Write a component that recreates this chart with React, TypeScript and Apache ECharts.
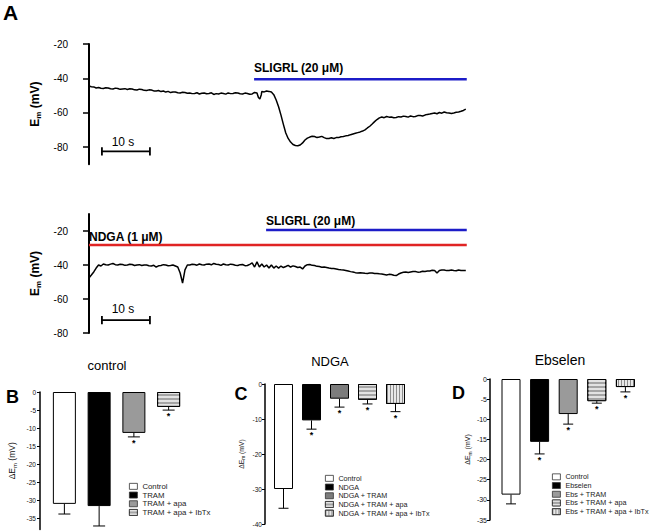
import React, { useEffect, useRef } from "react";
import * as echarts from "echarts";

const FONT = '"Liberation Sans", Arial, Helvetica, sans-serif';

// ---------- Panel A: membrane potential traces (time s, Em mV) ----------
const topTrace: number[][] = [
  [0,-44.5],[0.5,-44.9],[1,-45.0],[1.5,-45.6],[2,-45.3],[2.5,-45.8],[3,-45.9],[3.5,-45.5],[4,-45.6],[4.5,-46.1],
  [5,-46.2],[5.5,-45.7],[6,-45.9],[6.5,-46.4],[7,-46.2],[7.5,-46.0],[8,-46.5],[8.5,-46.1],[9,-46.2],[9.5,-46.7],
  [10,-46.8],[10.5,-46.3],[11,-46.5],[11.5,-47.0],[12,-47.1],[12.5,-46.7],[13,-46.8],[13.5,-47.3],[14,-47.4],[14.5,-47.1],
  [15,-47.7],[15.5,-47.4],[16,-48.0],[16.5,-47.6],[17,-48.3],[17.5,-47.9],[18,-48.0],[18.5,-48.4],[19,-48.5],[19.5,-48.1],
  [20,-48.3],[20.5,-48.7],[21,-48.5],[21.5,-48.9],[22,-48.8],[22.5,-48.4],[23,-49.1],[23.5,-48.7],[24,-48.5],[24.5,-49.0],
  [25,-48.8],[25.5,-48.4],[26,-49.4],[26.5,-48.9],[27,-49.1],[27.5,-48.6],[28,-48.8],[28.5,-49.2],[29,-48.5],[29.5,-48.9],
  [30,-48.8],[30.5,-48.4],[31,-48.5],[31.5,-49.0],[32,-49.1],[32.5,-48.6],[33,-48.8],[33.5,-49.3],[34,-49.1],[34.5,-48.2],
  [35,-48.5],[35.3,-51.2],[35.6,-52.0],[35.9,-49.5],[36,-47.7],[36.5,-47.9],[37,-47.4],[37.5,-47.6],[38,-48.0],[38.5,-49.5],
  [39,-52.6],[39.5,-56.5],[40,-61.4],[40.5,-66.8],[41,-71.8],[41.5,-75.0],[42,-77.1],[42.5,-78.5],[43,-79.1],[43.5,-79.3],
  [44,-78.8],[44.5,-77.6],[45,-75.9],[45.5,-74.8],[46,-74.2],[46.5,-73.7],[47,-73.9],[47.5,-74.5],[48,-74.2],[48.5,-73.8],
  [49,-74.5],[49.5,-75.1],[50,-75.0],[50.5,-74.6],[51,-75.0],[51.5,-74.5],[52,-74.5],[52.5,-74.0],[53,-73.9],[53.5,-73.5],
  [54,-73.3],[54.5,-72.8],[55,-72.4],[55.5,-72.0],[56,-71.6],[56.5,-71.2],[57,-70.7],[57.5,-70.0],[58,-68.9],[58.5,-67.9],
  [59,-66.6],[59.5,-65.2],[60,-64.0],[60.5,-63.0],[61,-62.5],[61.5,-62.9],[62,-62.2],[62.5,-62.6],[63,-62.5],[63.5,-62.9],
  [64,-62.8],[64.5,-62.3],[65,-62.5],[65.5,-62.0],[66,-62.2],[66.5,-62.6],[67,-61.9],[67.5,-62.3],[68,-62.2],[68.5,-61.7],
  [69,-61.6],[69.5,-61.9],[70,-61.4],[70.5,-61.0],[71,-60.8],[71.5,-60.5],[72,-60.2],[72.5,-60.6],[73,-59.9],[73.5,-60.3],
  [74,-59.6],[74.5,-60.0],[75,-60.2],[75.5,-60.5],[76,-60.2],[76.5,-59.8],[77,-59.6],[77.5,-59.2],[78,-58.7],[78.5,-57.9],
];

const bottomTrace: number[][] = [
  [0,-47.6],[0.5,-45.9],[1,-44.1],[1.5,-41.8],[2,-40.0],[2.5,-40.6],[3,-39.4],[3.5,-39.9],[4,-40.0],[4.5,-39.5],
  [5,-39.1],[5.5,-39.8],[6,-40.0],[6.5,-39.6],[7,-39.7],[7.5,-40.2],[8,-40.0],[8.5,-39.6],[9,-39.7],[9.5,-40.3],
  [10,-40.0],[10.5,-39.8],[11,-40.3],[11.5,-40.0],[12,-40.0],[12.5,-40.4],[13,-40.6],[13.5,-40.2],[14,-41.2],[14.5,-40.5],
  [15,-40.3],[15.5,-39.8],[16,-40.0],[16.5,-40.4],[17,-40.3],[17.5,-40.0],[18,-40.6],[18.5,-41.2],[19,-44.7],[19.5,-50.6],
  [20,-42.9],[20.5,-40.0],[21,-40.0],[21.5,-39.6],[22,-39.7],[22.5,-40.1],[23,-39.4],[23.5,-39.8],[24,-40.0],[24.5,-39.5],
  [25,-39.4],[25.5,-39.9],[26,-39.1],[26.5,-39.6],[27,-39.7],[27.5,-40.2],[28,-39.4],[28.5,-39.9],[29,-40.0],[29.5,-39.5],
  [30,-39.7],[30.5,-40.1],[31,-40.3],[31.5,-39.8],[32,-39.7],[32.5,-40.4],[33,-40.3],[33.5,-39.6],[34,-38.8],[34.5,-41.2],
  [35,-38.2],[35.5,-41.2],[36,-39.4],[36.5,-41.2],[37,-40.0],[37.5,-41.8],[38,-40.0],[38.5,-41.8],[39,-40.6],[39.5,-41.8],
  [40,-40.6],[40.5,-41.5],[41,-40.9],[41.5,-40.2],[42,-41.2],[42.5,-40.5],[43,-40.9],[43.5,-41.5],[44,-41.2],[44.5,-42.3],
  [45,-40.6],[45.5,-39.8],[46,-39.7],[46.5,-40.2],[47,-40.3],[47.5,-40.8],[48,-40.9],[48.5,-41.3],[49,-41.2],[49.5,-41.5],
  [50,-41.8],[50.5,-42.0],[51,-42.1],[51.5,-42.3],[52,-42.6],[52.5,-42.8],[53,-42.9],[53.5,-43.2],[54,-43.5],[54.5,-43.9],
  [55,-44.1],[55.5,-44.5],[56,-44.7],[56.5,-44.6],[57,-44.7],[57.5,-44.9],[58,-45.0],[58.5,-44.7],[59,-44.7],[59.5,-45.0],
  [60,-45.0],[60.5,-45.2],[61,-45.3],[61.5,-45.6],[62,-45.9],[62.5,-45.5],[63,-45.6],[63.5,-46.0],[64,-46.2],[64.5,-45.3],
  [65,-44.7],[65.5,-44.3],[66,-44.1],[66.5,-44.4],[67,-44.1],[67.5,-43.8],[68,-43.8],[68.5,-44.2],[69,-44.1],[69.5,-43.7],
  [70,-43.8],[70.5,-43.5],[71,-43.5],[71.5,-43.1],[72,-43.2],[72.5,-44.7],[73,-43.2],[73.5,-42.9],[74,-42.9],[74.5,-43.3],
  [75,-43.2],[75.5,-42.9],[76,-43.2],[76.5,-43.4],[77,-42.9],[77.5,-43.2],[78,-43.2],[78.5,-43.2],
];

// application bars: [start s, end s, level mV]
const sligrlTop = [34.4, 78.7, -40.5];
const sligrlBottom = [36.9, 78.7, -19.4];
const ndgaBottom = [0, 78.7, -28.2];
// scale bars: [start s, end s, level mV, half tick mV]
const scaleTop = [2.7, 12.7, -82.5, 2.4];
const scaleBottom = [2.7, 12.7, -72.4, 2.4];

const topTicks = [-20, -40, -60, -80];
const bottomTicks = [-20, -40, -60, -80];

// ---------- Panels B, C, D: ΔEm (mV) ----------
const bCategories = ["Control", "TRAM", "TRAM + apa", "TRAM + apa + IbTx"];
const bValues = [-30.9, -31.5, -11.3, -4.1];
const bErrors = [2.8, 5.5, 1.1, 0.9];
const bSig = [0, 0, 1, 1];
const bTicks = [0, -5, -10, -15, -20, -25, -30, -35];

const cCategories = ["Control", "NDGA", "NDGA + TRAM", "NDGA + TRAM + apa", "NDGA + TRAM + apa + IbTx"];
const cValues = [-30.0, -10.4, -4.2, -4.5, -5.7];
const cErrors = [5.5, 2.5, 2.4, 1.2, 2.2];
const cSig = [0, 1, 1, 1, 1];

const dCategories = ["Control", "Ebselen", "Ebs + TRAM", "Ebs + TRAM + apa", "Ebs + TRAM + apa + IbTx"];
const dValues = [-28.7, -15.6, -8.7, -5.5, -2.0];
const dErrors = [2.3, 3.0, 2.5, 0.5, 1.2];
const dSig = [0, 1, 1, 1, 1];

// fill styles
const WHITE = { color: "#ffffff" };
const BLACK = { color: "#000000" };
const GRAY = { color: "#9a9a9a" };
const DARKGRAY = { color: "#7c7c7c" };
const HSTRIPE = {
  color: "#a4a4a4",
  decal: { symbol: "rect", symbolSize: 1, color: "#e2e2e2", dashArrayX: [1, 0], dashArrayY: [1.5, 1.5], rotation: 0 },
};
const VSTRIPE = {
  color: "#e8e8e8",
  decal: { symbol: "rect", symbolSize: 1, color: "#8c8c8c", dashArrayX: [1, 1.6], dashArrayY: [1, 0], rotation: 0 },
};
const bFills = [WHITE, BLACK, GRAY, HSTRIPE];
const cFills = [WHITE, BLACK, DARKGRAY, HSTRIPE, VSTRIPE];
const dFills = [WHITE, BLACK, GRAY, HSTRIPE, VSTRIPE];

function barSeries(g: number, cats: string[], vals: number[], errs: number[], sig: number[], fills: any[], barWidth: number, cap: number, starSize: number) {
  const out: any[] = cats.map((name, i) => ({
    type: "bar",
    name,
    xAxisIndex: g,
    yAxisIndex: g,
    stack: "s" + g,
    barWidth,
    silent: true,
    data: cats.map((_, j) => (j === i ? vals[i] : "-")),
    itemStyle: { ...fills[i], borderColor: "#000", borderWidth: 1 },
  }));
  out.push({
    type: "custom",
    xAxisIndex: g,
    yAxisIndex: g,
    silent: true,
    z: 5,
    data: vals.map((v, i) => [i, v, errs[i], sig[i]]),
    renderItem: (_p: any, api: any) => {
      const i = api.value(0);
      const v = api.value(1);
      const e = api.value(2);
      const s = api.value(3);
      const p0 = api.coord([i, v]);
      const p1 = api.coord([i, v - e]);
      const children: any[] = [
        { type: "line", shape: { x1: p0[0], y1: p0[1], x2: p1[0], y2: p1[1] }, style: { stroke: "#000", lineWidth: 1 } },
        { type: "line", shape: { x1: p0[0] - cap / 2, y1: p1[1], x2: p0[0] + cap / 2, y2: p1[1] }, style: { stroke: "#000", lineWidth: 1 } },
      ];
      if (s) {
        children.push({
          type: "text",
          style: { text: "*", x: p0[0], y: p1[1] + 1.5, fontSize: starSize, fontWeight: "bold", fontFamily: FONT, fill: "#000", align: "center", verticalAlign: "top" },
        });
      }
      return { type: "group", children };
    },
  });
  return out;
}

function traceYAxis(g: number, min: number, max: number, ticks: number[]) {
  return {
    gridIndex: g,
    type: "value",
    min,
    max,
    axisLine: { show: true, lineStyle: { color: "#000", width: 2 } },
    axisTick: { show: true, length: 6, lineStyle: { color: "#000", width: 1.5 }, customValues: ticks },
    axisLabel: { customValues: ticks, fontSize: 10, color: "#000", margin: 8, fontFamily: FONT },
    splitLine: { show: false },
    name: "{a|E}{b|m}{a| (mV)}",
    nameLocation: "middle",
    nameRotate: 90,
    nameGap: 25,
    nameTextStyle: {
      rich: {
        a: { fontSize: 12, fontWeight: "bold", fontFamily: FONT, color: "#000", lineHeight: 16 },
        b: { fontSize: 8, fontWeight: "bold", fontFamily: FONT, color: "#000", lineHeight: 10, verticalAlign: "bottom" },
      },
    },
  };
}

function barYAxis(g: number, min: number, max: number, interval: number | undefined, ticks: number[] | undefined, offset: number, fontSize: number, nameSize: number, nameGap: number, margin: number) {
  const tickCfg: any = { show: true, length: 3, lineStyle: { color: "#000", width: 1 } };
  const labelCfg: any = { fontSize, color: "#111", margin, fontFamily: FONT };
  if (ticks) {
    tickCfg.customValues = ticks;
    labelCfg.customValues = ticks;
  }
  return {
    gridIndex: g,
    type: "value",
    min,
    max,
    interval,
    offset,
    axisLine: { show: true, lineStyle: { color: "#000", width: 1.5 } },
    axisTick: tickCfg,
    axisLabel: labelCfg,
    splitLine: { show: false },
    name: "{a|ΔE}{b|m}{a| (mV)}",
    nameLocation: "middle",
    nameRotate: 90,
    nameGap,
    nameTextStyle: {
      rich: {
        a: { fontSize: nameSize, fontFamily: FONT, color: "#111", lineHeight: nameSize + 3 },
        b: { fontSize: nameSize * 0.7, fontFamily: FONT, color: "#111", lineHeight: nameSize * 0.8, verticalAlign: "bottom" },
      },
    },
  };
}

function legend(left: number, top: number, data: string[], fontSize: number) {
  return {
    orient: "vertical",
    left,
    top,
    padding: 0,
    itemGap: 0,
    itemWidth: 8,
    itemHeight: 6,
    icon: "rect",
    selectedMode: false,
    data,
    itemStyle: { borderColor: "#333", borderWidth: 0.8 },
    textStyle: { fontSize, fontFamily: FONT, color: "#222", lineHeight: 8.7 },
  };
}

function txt(x: number, y: number, text: string, fontSize: number, fontWeight: string, align: string) {
  return {
    type: "text",
    x,
    y,
    silent: true,
    style: { text, fontSize, fontWeight, fontFamily: FONT, fill: "#000", align, textAlign: align, verticalAlign: "middle", textVerticalAlign: "middle" },
  };
}

function stimLine(g: number, seg: number[], color: string) {
  return {
    type: "line",
    xAxisIndex: g,
    yAxisIndex: g,
    symbol: "none",
    silent: true,
    data: [[seg[0], seg[2]], [seg[1], seg[2]]],
    lineStyle: { color, width: 2.5 },
  };
}

function scaleBar(g: number, s: number[]) {
  return {
    type: "line",
    xAxisIndex: g,
    yAxisIndex: g,
    symbol: "none",
    silent: true,
    data: [
      [s[0], s[2] + s[3]], [s[0], s[2] - s[3]], [s[0], s[2]],
      [s[1], s[2]], [s[1], s[2] + s[3]], [s[1], s[2] - s[3]],
    ],
    lineStyle: { color: "#000", width: 1.8 },
  };
}

export default function App() {
  const ref = useRef<HTMLDivElement>(null);
  useEffect(() => {
    if (!ref.current) return;
    const chart = echarts.init(ref.current, undefined, { renderer: "svg" });
    const traceX = (g: number) => ({ gridIndex: g, type: "value", min: -2.7, max: 80, show: false });
    const catX = (g: number, cats: string[]) => ({ gridIndex: g, type: "category", data: cats, show: false });
    const option: any = {
      animation: false,
      backgroundColor: "#ffffff",
      textStyle: { fontFamily: FONT },
      grid: [
        { left: 76, top: 44, width: 397, height: 120.2, containLabel: false, outerBoundsMode: "none" },
        { left: 76, top: 214, width: 397, height: 119, containLabel: false, outerBoundsMode: "none" },
        { left: 47, top: 392, width: 139, height: 137.6, containLabel: false, outerBoundsMode: "none" },
        { left: 269.5, top: 384, width: 140, height: 140, containLabel: false, outerBoundsMode: "none" },
        { left: 496.7, top: 379, width: 143, height: 141, containLabel: false, outerBoundsMode: "none" },
      ],
      xAxis: [traceX(0), traceX(1), catX(2, bCategories), catX(3, cCategories), catX(4, dCategories)],
      yAxis: [
        traceYAxis(0, -90, -20, topTicks),
        traceYAxis(1, -80, -10, bottomTicks),
        barYAxis(2, -38, 0, undefined, bTicks, 7, 6.5, 8.5, 22, 4),
        barYAxis(3, -40, 0, 10, undefined, 4.5, 6.5, 6.8, 19, 3),
        barYAxis(4, -35, 0, 5, undefined, 6.7, 7, 7, 15.5, 3),
      ],
      legend: [
        legend(129, 482, bCategories, 7.8),
        legend(325, 474, cCategories, 7.2),
        legend(552, 472.5, dCategories, 7.2),
      ],
      graphic: [
        txt(3, 12, "A", 21, "bold", "left"),
        txt(254, 68, "SLIGRL (20 μM)", 12, "bold", "left"),
        txt(89, 237, "NDGA (1 μM)", 12, "bold", "left"),
        txt(266, 221, "SLIGRL (20 μM)", 12, "bold", "left"),
        txt(123, 142, "10 s", 12, "normal", "center"),
        txt(123, 309, "10 s", 12, "normal", "center"),
        txt(12.5, 397, "B", 18, "bold", "center"),
        txt(241, 394, "C", 18, "bold", "center"),
        txt(458.5, 393, "D", 18, "bold", "center"),
        txt(107, 365, "control", 13, "normal", "center"),
        txt(330, 361, "NDGA", 13, "normal", "center"),
        txt(560, 360, "Ebselen", 14, "normal", "center"),
      ],
      series: [
        { type: "line", xAxisIndex: 0, yAxisIndex: 0, symbol: "none", silent: true, data: topTrace, lineStyle: { color: "#000", width: 1.5 } },
        stimLine(0, sligrlTop, "#1c1cc8"),
        scaleBar(0, scaleTop),
        { type: "line", xAxisIndex: 1, yAxisIndex: 1, symbol: "none", silent: true, data: bottomTrace, lineStyle: { color: "#000", width: 1.5 } },
        stimLine(1, ndgaBottom, "#e02424"),
        stimLine(1, sligrlBottom, "#1c1cc8"),
        scaleBar(1, scaleBottom),
        ...barSeries(2, bCategories, bValues, bErrors, bSig, bFills, 23, 12, 9),
        ...barSeries(3, cCategories, cValues, cErrors, cSig, cFills, 19, 10, 9),
        ...barSeries(4, dCategories, dValues, dErrors, dSig, dFills, 19, 10, 9),
      ],
    };
    chart.setOption(option);
    return () => chart.dispose();
  }, []);
  return <div ref={ref} style={{ width: 649, height: 531, position: "fixed", left: 0, top: 0 }} />;
}
